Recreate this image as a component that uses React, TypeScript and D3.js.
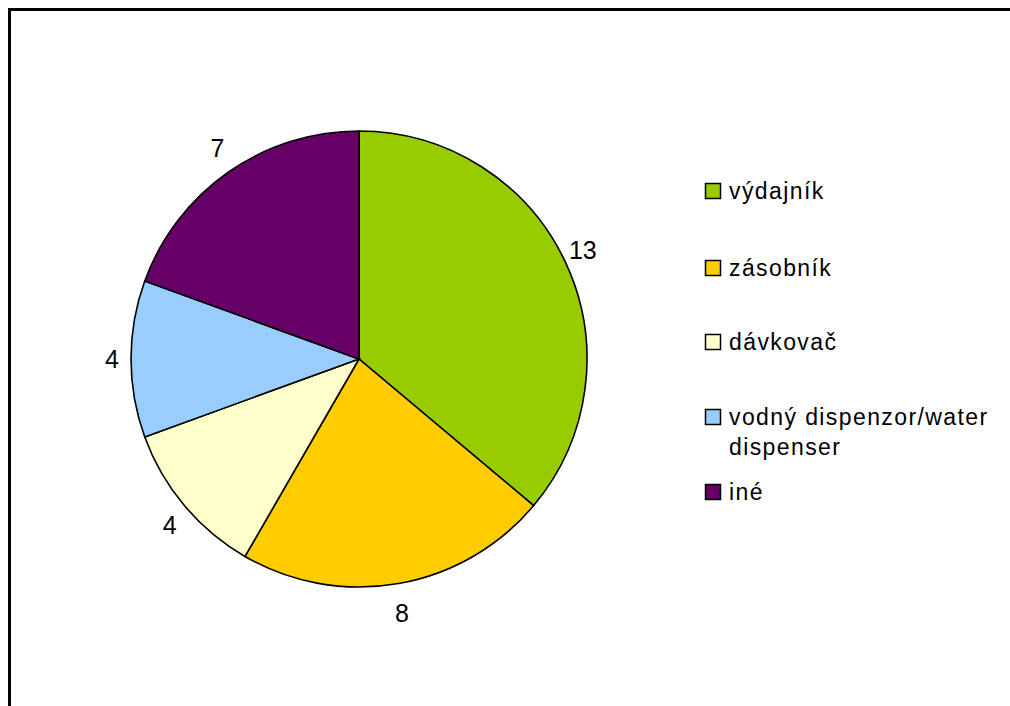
import React from "react";
import * as d3 from "d3";

const categories = ["výdajník", "zásobník", "dávkovač", "vodný dispenzor/water dispenser", "iné"];
const legendLines = [["výdajník"], ["zásobník"], ["dávkovač"], ["vodný dispenzor/water", "dispenser"], ["iné"]];
const values = [13, 8, 4, 4, 7];
const colors = ["#99CC00", "#FFCC00", "#FFFFCC", "#99CCFF", "#660066"];
const legendRowY = [191, 268, 342, 417, 492];

export default function App() {
  const W = 1010, H = 706;
  const cx = 359, cy = 359, R = 228;
  const pie = d3.pie<number>().sort(null).value((d) => d);
  const arcs = pie(values);
  const arc = d3.arc<d3.PieArcDatum<number>>().innerRadius(0).outerRadius(R);
  const unitArc = d3.arc<d3.PieArcDatum<number>>().innerRadius(1).outerRadius(1);
  const font = "'Liberation Sans', Arial, sans-serif";
  return (
    <svg width={W} height={H} style={{ position: "absolute", left: 0, top: 0 }}>
      <rect x={0} y={0} width={W} height={H} fill="#fff" />
      <rect x={9.5} y={9.5} width={1100} height={800} fill="none" stroke="#000" strokeWidth={3} />
      <g transform={`translate(${cx},${cy})`}>
        {arcs.map((a, i) => (
          <path key={i} d={arc(a) || ""} fill={colors[i]} stroke="#000" strokeWidth={1.6} />
        ))}
        {arcs.map((a, i) => {
          const [ux, uy] = unitArc.centroid(a);
          return (
            <text key={i} x={ux * 247} y={uy * 258} textAnchor="middle" dominantBaseline="central"
              fontFamily={font} fontSize={25} fill="#000">{values[i]}</text>
          );
        })}
      </g>
      <g>
        {categories.map((c, i) => (
          <g key={c}>
            <rect x={705.5} y={legendRowY[i] - 7.5} width={15} height={15} fill={colors[i]} stroke="#000" strokeWidth={1.5} />
            {legendLines[i].map((t, j) => (
              <text key={j} x={729} y={legendRowY[i] + 8 + j * 30} fontFamily={font} fontSize={23}
                letterSpacing={1.4} fill="#000">{t}</text>
            ))}
          </g>
        ))}
      </g>
    </svg>
  );
}
